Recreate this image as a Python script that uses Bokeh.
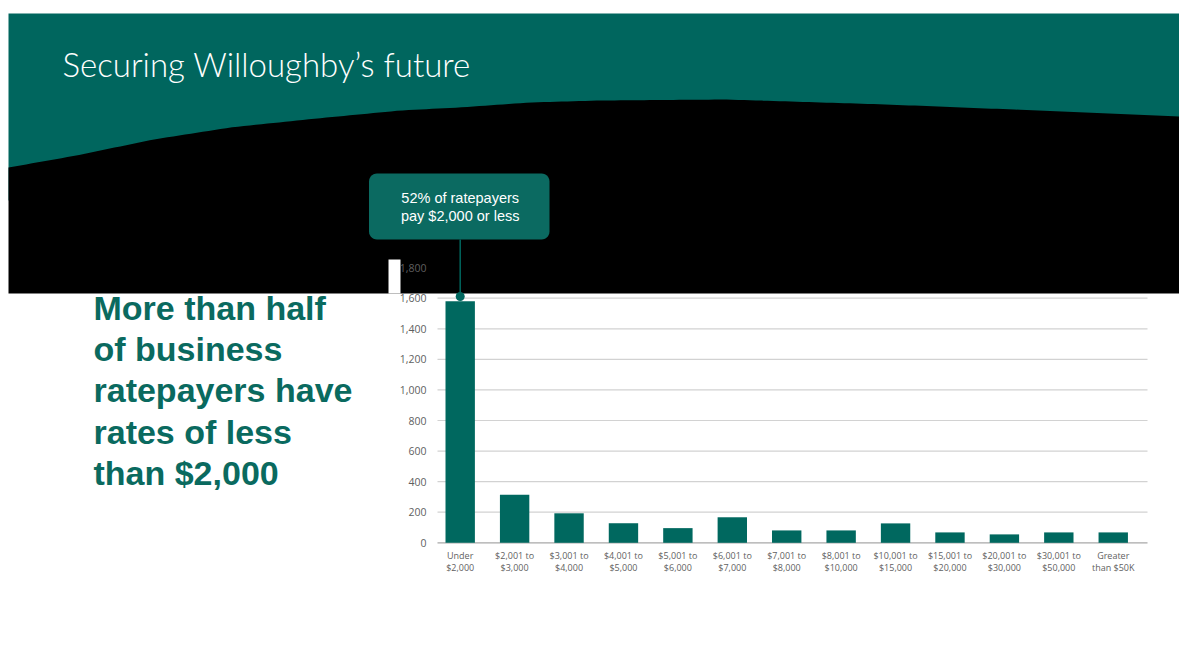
import numpy as np
from bokeh.plotting import figure
from bokeh.models import Range1d
from bokeh.core.properties import value
from bokeh.embed import file_html
from bokeh.resources import INLINE

# ---------------- data ----------------
categories = ["Under\n$2,000", "$2,001 to\n$3,000", "$3,001 to\n$4,000", "$4,001 to\n$5,000",
              "$5,001 to\n$6,000", "$6,001 to\n$7,000", "$7,001 to\n$8,000", "$8,001 to\n$10,000",
              "$10,001 to\n$15,000", "$15,001 to\n$20,000", "$20,001 to\n$30,000",
              "$30,001 to\n$50,000", "Greater\nthan $50K"]
ratepayers = [1580, 315, 193, 128, 96, 167, 81, 81, 127, 68, 55, 68, 68]
y_ticks = [0, 200, 400, 600, 800, 1000, 1200, 1400, 1600, 1800]
y_tick_labels = ["0", "200", "400", "600", "800", "1,000", "1,200", "1,400", "1,600", "1,800"]
title_text = "Securing Willoughby\u2019s future"
headline_lines = ["More than half", "of business", "ratepayers have", "rates of less", "than $2,000"]
callout_lines = ["52% of ratepayers", "pay $2,000 or less"]

# ---------------- layout constants ----------------
W, H = 1179, 670
X0, DX = 459.7, 54.42          # pixel centre of first bar, bar spacing
Y0, S = 542.3, 244.6 / 1600.0  # pixel of value 0, pixels per unit
TEAL = "#00665E"
BAR = "#00685F"
TICK = "#5f5f5f"


def Y(py):
    return H - py


idx = list(range(len(categories)))

p = figure(width=W, height=H,
           x_range=Range1d(-X0 / DX, (W - X0) / DX),
           y_range=Range1d((Y0 - H) / S, Y0 / S),
           x_axis_type=None, y_axis_type=None,
           output_backend="svg", toolbar_location=None, min_border=0)
p.extra_x_ranges = {"px": Range1d(0, W)}
p.extra_y_ranges = {"px": Range1d(0, H)}
p.grid.visible = False
p.outline_line_color = None
p.background_fill_color = "white"
p.border_fill_color = "white"

# grid lines
grid_colors = ["#a8a8a8"] + ["#d2d2d2"] * (len(y_ticks) - 1)
p.segment(x0=[437] * len(y_ticks), x1=[1147] * len(y_ticks), y0=y_ticks, y1=y_ticks,
          x_range_name="px", line_color=grid_colors, line_width=1.2)

# bars
p.vbar(x=idx, top=ratepayers, bottom=0, width=0.54, fill_color=BAR, line_color=None)

# header: teal band + black wave
p.quad(left=[8], right=[W], top=[Y(13)], bottom=[Y(200)],
       x_range_name="px", y_range_name="px", fill_color=TEAL, line_color=None)
cx = [8, 76, 153, 230, 306, 400, 458, 530, 600, 725, 886, 1038, 1179]
cy = [167, 155, 139, 127, 119, 110, 107, 102, 100, 99, 104, 110, 116]
gx = np.linspace(8, W, 200)
gy = np.interp(gx, cx, cy)
bx = list(gx) + [W, 8]
by = [Y(v) for v in gy] + [Y(293), Y(293)]
p.patch(x=bx, y=by, x_range_name="px", y_range_name="px", fill_color="black", line_color=None)

# small white artefact on the band edge
p.quad(left=[388], right=[400], top=[Y(259)], bottom=[Y(293)],
       x_range_name="px", y_range_name="px", fill_color="white", line_color=None)

# y tick labels
p.text(x=[426] * len(y_ticks), y=y_ticks, text=y_tick_labels, x_range_name="px",
       text_align="right", text_baseline="middle", text_font=value("Open Sans"),
       text_font_size="10.5px", text_color=TICK)

# x tick labels
p.text(x=idx, y=[Y(548)] * len(idx), text=categories, y_range_name="px",
       text_align="center", text_baseline="top", text_font=value("Open Sans"),
       text_font_size="9px", text_color=TICK, text_line_height=0.95)


# callout box
def rounded_rect(l, r, t, b, rad, n=8):
    xs, ys = [], []
    corners = [(r - rad, t + rad, -90, 0), (r - rad, b - rad, 0, 90),
               (l + rad, b - rad, 90, 180), (l + rad, t + rad, 180, 270)]
    for (ccx, ccy, a0, a1) in corners:
        for a in np.linspace(np.radians(a0), np.radians(a1), n):
            xs.append(ccx + rad * np.cos(a))
            ys.append(Y(ccy + rad * np.sin(a)))
    return xs, ys


rx, ry = rounded_rect(368.5, 549, 173, 239, 8)
p.patch(x=rx, y=ry, x_range_name="px", y_range_name="px", fill_color="#0B6A61", line_color=None)
p.segment(x0=[0], x1=[0], y0=[Y(239)], y1=[Y(296)], y_range_name="px",
          line_color=TEAL, line_width=1.5)
p.scatter(x=[0], y=[Y(296)], y_range_name="px", size=9, fill_color=TEAL, line_color=None)
p.text(x=[0, 0], y=[Y(197), Y(215.5)], text=callout_lines, y_range_name="px",
       text_align="center", text_baseline="middle", text_font=value("Liberation Sans"),
       text_font_size="14.5px", text_color="white")

# title
p.text(x=[62], y=[Y(63)], text=[title_text], x_range_name="px", y_range_name="px",
       text_align="left", text_baseline="middle", text_font=value("'Lato Light', Lato"),
       text_font_size="33px", text_color="white")

# headline
p.text(x=[93] * len(headline_lines), y=[Y(307.5 + 41.2 * k) for k in range(len(headline_lines))],
       text=headline_lines, x_range_name="px", y_range_name="px",
       text_align="left", text_baseline="middle", text_font=value("Liberation Sans"),
       text_font_style="bold", text_font_size="34px", text_color="#0A6A5F")

open("out.html", "w").write(file_html(p, INLINE))
